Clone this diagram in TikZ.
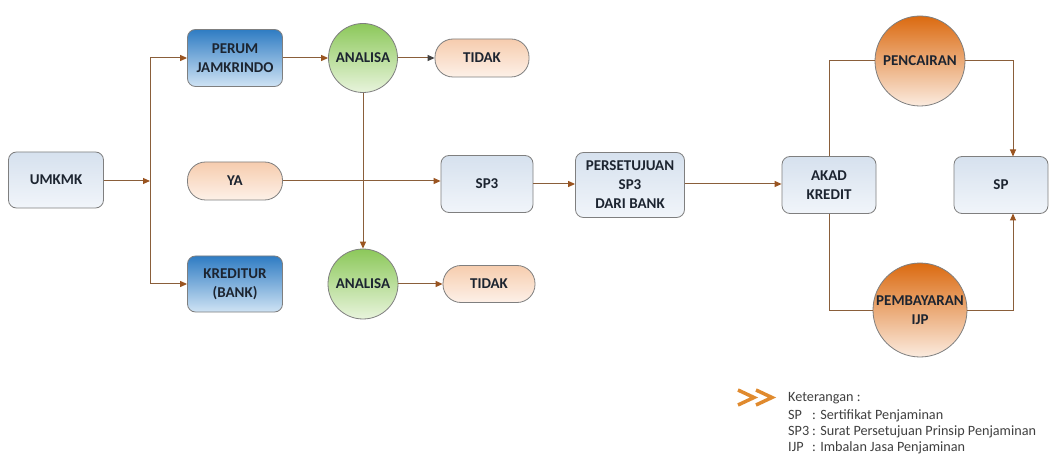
\documentclass[tikz,border=0pt]{standalone}
\usepackage{fontspec}
\setmainfont{Carlito}
\usetikzlibrary{arrows.meta,positioning}
\definecolor{txt}{HTML}{1C2430}
\definecolor{legC}{HTML}{404040}
\definecolor{lineC}{HTML}{8A5E3A}
\definecolor{tipC}{HTML}{9A5420}
\definecolor{boxD}{HTML}{7F7F7F}
\definecolor{lbTop}{HTML}{D6E1EE}
\definecolor{lbBot}{HTML}{F1F5FA}
\definecolor{blTop}{HTML}{2F7CC3}
\definecolor{blBot}{HTML}{CFE3F4}
\definecolor{piTop}{HTML}{F6CCAE}
\definecolor{piBot}{HTML}{FDF1E8}
\definecolor{grTop}{HTML}{8CC85A}
\definecolor{grBot}{HTML}{E8F4DC}
\definecolor{orTop}{HTML}{DB6A10}
\definecolor{orBot}{HTML}{FBEBDF}
\definecolor{chev}{HTML}{E08A2E}
\begin{document}
\begin{tikzpicture}[x=1pt,y=-1pt,
  every node/.style={font=\fontsize{15}{19}\selectfont\bfseries, text=txt, align=center, inner sep=1pt},
  lightbox/.style={draw=boxD, line width=0.8pt, rounded corners=8pt, top color=lbTop, bottom color=lbBot, minimum width=94pt, minimum height=57pt},
  bluebox/.style={draw=boxD, line width=0.8pt, rounded corners=8pt, top color=blTop, bottom color=blBot, minimum width=95pt, minimum height=57pt},
  pillbox/.style={draw=boxD, line width=0.8pt, rounded corners=18pt, top color=piTop, bottom color=piBot, minimum width=94pt, minimum height=38pt},
  greencirc/.style={circle, draw=boxD, line width=0.8pt, top color=grTop, bottom color=grBot, minimum size=69pt, inner sep=0pt},
  orangecirc/.style={circle, draw=boxD, line width=0.8pt, top color=orTop, bottom color=orBot, minimum size=92pt, inner sep=0pt},
  conn/.style={draw=lineC, line width=1pt},
  arr/.style={conn, -{Triangle[length=7pt,width=6pt,fill=tipC,color=tipC]}},
  darr/.style={conn, -{Triangle[length=7pt,width=6pt,fill=black!75,color=black!75]}},
  legend/.style={font=\fontsize{14.2}{16}\selectfont, text=legC, anchor=west, align=left, inner sep=0pt}
]
\useasboundingbox (0,0) rectangle (1050,457);
\fill[white] (0,0) rectangle (1050,457);

% nodes
\node[lightbox, minimum width=95pt, minimum height=56pt] (umkmk) at (56,180) {UMKMK};
\node[bluebox] (perum) at (235,58) {PERUM\\JAMKRINDO};
\node[pillbox, minimum width=95pt] (ya) at (235,181) {YA};
\node[bluebox, minimum height=56pt] (kred) at (235,284) {KREDITUR\\(BANK)};
\node[greencirc] (an1) at (363,58) {ANALISA};
\node[greencirc, minimum size=70pt] (an2) at (363,284) {ANALISA};
\node[pillbox] (tid1) at (482,58) {TIDAK};
\node[pillbox, minimum width=92pt, minimum height=37pt] (tid2) at (489,284) {TIDAK};
\node[lightbox, minimum width=92pt] (sp3) at (487,184) {SP3};
\node[lightbox, minimum width=109pt, minimum height=65pt] (pers) at (630,185) {PERSETUJUAN\\SP3\\DARI BANK};
\node[lightbox] (akad) at (829,185) {AKAD\\KREDIT};
\node[orangecirc, minimum size=90pt] (penc) at (920,61) {PENCAIRAN};
\node[orangecirc, minimum size=94pt] (pemb) at (920,310) {PEMBAYARAN\\IJP};
\node[lightbox] (sp) at (1001,185) {SP};

% junction coordinates
\coordinate (j) at (150,181);
\coordinate (jt) at (150,58);
\coordinate (jb) at (150,284);
\coordinate (spn) at (1013,156.5);
\coordinate (sps) at (1013,213.5);

% connectors
\draw[arr] (umkmk.east |- j) -- (j);
\draw[conn] (jt) -- (jb);
\draw[arr] (jt) -- (perum.west);
\draw[arr] (jb) -- (kred.west);
\draw[arr] (perum.east) -- (an1.west);
\draw[darr] (an1.east) -- (tid1.west);
\draw[arr] (an1.south) -- (an2.north);
\draw[arr] (an2.east) -- (tid2.west);
\draw[arr] (ya.east) -- (ya.east -| sp3.west);
\draw[arr] (sp3.east) -- (pers.west |- sp3.east);
\draw[arr] (pers.east |- sp3.east) -- (akad.west |- sp3.east);
\draw[conn] (akad.north) |- (penc.west);
\draw[arr] (penc.east) -| (spn);
\draw[conn] (akad.south) |- (pemb.west);
\draw[arr] (pemb.east) -| (sps);

% legend
\draw[chev, line width=3.5pt, line join=miter, line cap=butt] (738,390) -- (754,397.5) -- (738,405);
\draw[chev, line width=3.5pt, line join=miter, line cap=butt] (756,390) -- (772,397.5) -- (756,405);
\node[legend] (k0) at (788,398) {Keterangan :};
\node[legend] (k1) at (788,416) {\makebox[24pt][l]{SP}: Sertifikat Penjaminan};
\node[legend] (k2) at (788,432) {\makebox[24pt][l]{SP3}: Surat Persetujuan Prinsip Penjaminan};
\node[legend] (k3) at (788,448) {\makebox[24pt][l]{IJP}: Imbalan Jasa Penjaminan};
\end{tikzpicture}
\end{document}
